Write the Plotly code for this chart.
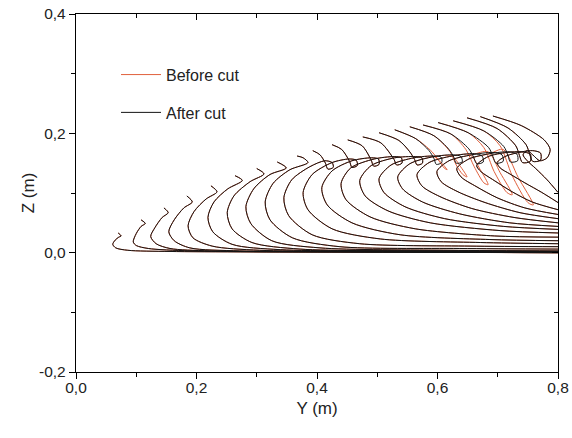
import plotly.graph_objects as go

# Snapshot profiles of the line, horizontal position Y (m) and height Z (m),
# each listed from the fixed end at Y = 0.8 m to the free end.
s01_y = [0.800, 0.455, 0.156, 0.086, 0.066, 0.061, 0.065, 0.071, 0.075, 0.070]
s01_z = [0.000, 0.001, 0.002, 0.004, 0.008, 0.014, 0.021, 0.026, 0.028, 0.033]
s02_y = [0.800, 0.455, 0.189, 0.120, 0.100, 0.095, 0.100, 0.108, 0.115, 0.108]
s02_z = [0.000, 0.001, 0.003, 0.007, 0.012, 0.018, 0.032, 0.044, 0.049, 0.055]
s03_y = [0.800, 0.504, 0.222, 0.156, 0.133, 0.124, 0.131, 0.143, 0.153, 0.146]
s03_z = [0.000, 0.001, 0.003, 0.007, 0.015, 0.027, 0.042, 0.059, 0.067, 0.075]
s04_y = [0.800, 0.538, 0.272, 0.189, 0.163, 0.154, 0.163, 0.179, 0.193, 0.184]
s04_z = [0.001, 0.002, 0.003, 0.008, 0.020, 0.035, 0.055, 0.075, 0.085, 0.095]
s05_y = [0.800, 0.571, 0.305, 0.226, 0.194, 0.186, 0.196, 0.216, 0.234, 0.224]
s05_z = [0.001, 0.002, 0.004, 0.011, 0.025, 0.045, 0.069, 0.090, 0.102, 0.112]
s06_y = [0.800, 0.588, 0.339, 0.259, 0.227, 0.219, 0.229, 0.252, 0.276, 0.264]
s06_z = [0.002, 0.003, 0.005, 0.014, 0.035, 0.059, 0.085, 0.107, 0.121, 0.129]
s07_y = [0.800, 0.604, 0.372, 0.292, 0.259, 0.251, 0.262, 0.289, 0.312, 0.300]
s07_z = [0.002, 0.003, 0.006, 0.017, 0.040, 0.067, 0.095, 0.119, 0.132, 0.141]
s08_y = [0.800, 0.621, 0.405, 0.325, 0.290, 0.282, 0.295, 0.322, 0.349, 0.334]
s08_z = [0.003, 0.004, 0.008, 0.020, 0.049, 0.077, 0.107, 0.131, 0.142, 0.152]
s09_y = [0.800, 0.637, 0.438, 0.359, 0.322, 0.314, 0.327, 0.355, 0.385, 0.377, 0.367]
s09_z = [0.006, 0.007, 0.010, 0.025, 0.055, 0.085, 0.116, 0.139, 0.151, 0.159, 0.162]
s10_y = [0.800, 0.654, 0.471, 0.392, 0.353, 0.345, 0.358, 0.388, 0.413, 0.425, 0.427, 0.418, 0.414, 0.405, 0.393]
s10_z = [0.010, 0.011, 0.015, 0.030, 0.062, 0.092, 0.122, 0.144, 0.154, 0.151, 0.143, 0.140, 0.150, 0.164, 0.171]
s11_y = [0.800, 0.671, 0.505, 0.425, 0.385, 0.377, 0.392, 0.425, 0.453, 0.465, 0.467, 0.458, 0.454, 0.441, 0.425]
s11_z = [0.015, 0.017, 0.023, 0.040, 0.072, 0.101, 0.131, 0.151, 0.157, 0.155, 0.146, 0.143, 0.153, 0.173, 0.181]
s12_y = [0.800, 0.687, 0.538, 0.458, 0.417, 0.408, 0.425, 0.458, 0.490, 0.502, 0.503, 0.494, 0.490, 0.475, 0.451]
s12_z = [0.020, 0.022, 0.030, 0.050, 0.080, 0.109, 0.137, 0.154, 0.159, 0.157, 0.148, 0.145, 0.155, 0.179, 0.189]
s13_y = [0.800, 0.695, 0.563, 0.488, 0.448, 0.440, 0.456, 0.495, 0.528, 0.540, 0.541, 0.532, 0.528, 0.506, 0.476]
s13_z = [0.026, 0.028, 0.040, 0.060, 0.089, 0.116, 0.142, 0.157, 0.161, 0.159, 0.150, 0.147, 0.156, 0.184, 0.194]
s14_y = [0.800, 0.704, 0.588, 0.518, 0.480, 0.471, 0.490, 0.529, 0.563, 0.574, 0.575, 0.566, 0.562, 0.554, 0.536, 0.503]
s14_z = [0.033, 0.037, 0.050, 0.070, 0.095, 0.121, 0.146, 0.159, 0.161, 0.159, 0.150, 0.147, 0.156, 0.169, 0.188, 0.201]

# Snapshots 15-19: common body, then the tip after the cut and before it.
s15_body_y = [0.800, 0.710, 0.612, 0.546, 0.511, 0.503, 0.523, 0.561]
s15_body_z = [0.039, 0.044, 0.057, 0.077, 0.101, 0.124, 0.147, 0.159]
s15_after_y = [0.594, 0.606, 0.607, 0.598, 0.594, 0.586, 0.564, 0.529]
s15_after_z = [0.162, 0.160, 0.151, 0.148, 0.158, 0.171, 0.191, 0.206]
s15_before_y = [0.594, 0.606, 0.616, 0.611, 0.601, 0.591, 0.564, 0.529]
s15_before_z = [0.161, 0.151, 0.139, 0.142, 0.156, 0.169, 0.191, 0.206]

s16_body_y = [0.800, 0.720, 0.637, 0.575, 0.542, 0.534, 0.554, 0.594]
s16_body_z = [0.044, 0.050, 0.065, 0.085, 0.107, 0.127, 0.149, 0.161]
s16_after_y = [0.627, 0.639, 0.641, 0.631, 0.627, 0.619, 0.594, 0.554]
s16_after_z = [0.164, 0.161, 0.152, 0.150, 0.160, 0.173, 0.196, 0.211]
s16_before_y = [0.624, 0.637, 0.649, 0.642, 0.631, 0.621, 0.594, 0.554]
s16_before_z = [0.162, 0.146, 0.127, 0.131, 0.147, 0.169, 0.196, 0.211]

s17_body_y = [0.800, 0.727, 0.657, 0.604, 0.574, 0.566, 0.586, 0.624]
s17_body_z = [0.050, 0.059, 0.074, 0.094, 0.112, 0.131, 0.151, 0.162]
s17_after_y = [0.661, 0.674, 0.676, 0.665, 0.660, 0.652, 0.622, 0.576]
s17_after_z = [0.166, 0.162, 0.152, 0.149, 0.160, 0.174, 0.199, 0.214]
s17_before_y = [0.654, 0.671, 0.684, 0.677, 0.661, 0.647, 0.622, 0.576]
s17_before_z = [0.164, 0.139, 0.114, 0.117, 0.144, 0.173, 0.199, 0.214]

s18_body_y = [0.800, 0.737, 0.679, 0.634, 0.606, 0.599, 0.619, 0.657]
s18_body_z = [0.057, 0.067, 0.084, 0.102, 0.119, 0.136, 0.154, 0.164]
s18_after_y = [0.692, 0.707, 0.709, 0.697, 0.692, 0.685, 0.651, 0.601]
s18_after_z = [0.168, 0.164, 0.153, 0.150, 0.161, 0.176, 0.201, 0.218]
s18_before_y = [0.684, 0.704, 0.724, 0.715, 0.694, 0.677, 0.651, 0.601]
s18_before_z = [0.169, 0.134, 0.097, 0.101, 0.136, 0.176, 0.201, 0.218]

s19_body_y = [0.800, 0.745, 0.699, 0.664, 0.639, 0.632, 0.652, 0.687]
s19_body_z = [0.064, 0.075, 0.092, 0.111, 0.127, 0.141, 0.157, 0.166]
s19_after_y = [0.719, 0.732, 0.733, 0.721, 0.717, 0.710, 0.677, 0.626]
s19_after_z = [0.169, 0.165, 0.154, 0.152, 0.163, 0.178, 0.204, 0.221]
s19_before_y = [0.709, 0.734, 0.759, 0.750, 0.724, 0.704, 0.677, 0.626]
s19_before_z = [0.173, 0.126, 0.080, 0.084, 0.129, 0.179, 0.204, 0.221]

s20_y = [0.800, 0.757, 0.724, 0.694, 0.672, 0.665, 0.684, 0.715, 0.740, 0.754, 0.754, 0.741, 0.736, 0.730, 0.699, 0.649]
s20_z = [0.072, 0.085, 0.102, 0.121, 0.136, 0.146, 0.161, 0.168, 0.169, 0.165, 0.153, 0.151, 0.163, 0.179, 0.208, 0.226]
s21_y = [0.800, 0.773, 0.745, 0.720, 0.704, 0.699, 0.714, 0.740, 0.758, 0.771, 0.771, 0.758, 0.753, 0.747, 0.717, 0.671]
s21_z = [0.084, 0.101, 0.117, 0.132, 0.142, 0.151, 0.162, 0.169, 0.171, 0.167, 0.155, 0.153, 0.165, 0.181, 0.209, 0.228]
s22_y = [0.800, 0.782, 0.763, 0.749, 0.742, 0.749, 0.758, 0.770, 0.782, 0.787, 0.777, 0.739, 0.692]
s22_z = [0.101, 0.122, 0.141, 0.154, 0.164, 0.171, 0.164, 0.154, 0.159, 0.173, 0.189, 0.213, 0.229]

# Axis ticks
y_tick_vals = [0.0, 0.2, 0.4, 0.6, 0.8]
y_tick_text = ["0,0", "0,2", "0,4", "0,6", "0,8"]
y_minor_vals = [0.1, 0.3, 0.5, 0.7]
z_tick_vals = [-0.2, 0.0, 0.2, 0.4]
z_tick_text = ["-0,2", "0,0", "0,2", "0,4"]
z_minor_vals = [-0.1, 0.1, 0.3]

RED = "#e0603c"
BLACK = "#141414"
FONT = "Liberation Sans, Arial, sans-serif"
TEXT = "#222222"

shared = [
    (s01_y, s01_z), (s02_y, s02_z), (s03_y, s03_z), (s04_y, s04_z),
    (s05_y, s05_z), (s06_y, s06_z), (s07_y, s07_z), (s08_y, s08_z),
    (s09_y, s09_z), (s10_y, s10_z), (s11_y, s11_z), (s12_y, s12_z),
    (s13_y, s13_z), (s14_y, s14_z),
]
late = [(s20_y, s20_z), (s21_y, s21_z), (s22_y, s22_z)]
split = [
    (s15_body_y, s15_body_z, s15_after_y, s15_after_z, s15_before_y, s15_before_z),
    (s16_body_y, s16_body_z, s16_after_y, s16_after_z, s16_before_y, s16_before_z),
    (s17_body_y, s17_body_z, s17_after_y, s17_after_z, s17_before_y, s17_before_z),
    (s18_body_y, s18_body_z, s18_after_y, s18_after_z, s18_before_y, s18_before_z),
    (s19_body_y, s19_body_z, s19_after_y, s19_after_z, s19_before_y, s19_before_z),
]

before_cut = list(shared)
before_cut += [(by + bfy, bz + bfz) for by, bz, ay, az, bfy, bfz in split]
before_cut += late
after_cut = list(shared)
after_cut += [(by + ay, bz + az) for by, bz, ay, az, bfy, bfz in split]
after_cut += late

fig = go.Figure()


def add_profiles(profiles, name, color, group):
    for i, (py, pz) in enumerate(profiles):
        fig.add_trace(go.Scatter(
            x=py, y=pz, mode="lines", name=name,
            line=dict(color=color, width=1, shape="spline", smoothing=0.8),
            legendgroup=group, showlegend=(i == 0), hoverinfo="skip",
        ))


add_profiles(before_cut, "Before cut", RED, "before")
add_profiles(after_cut, "After cut", BLACK, "after")

# Empty trace that carries the mirrored top/right axes
fig.add_trace(go.Scatter(x=[], y=[], xaxis="x2", yaxis="y2",
                         showlegend=False, hoverinfo="skip"))

axis_common = dict(
    showgrid=False, zeroline=False, showline=True, automargin=False,
    linecolor="black", linewidth=1.3,
    tickfont=dict(family=FONT, size=15.5, color=TEXT),
    tickcolor="black", tickwidth=1.2,
)

fig.update_layout(
    width=572, height=438,
    margin=dict(l=76, r=14, t=14, b=66),
    paper_bgcolor="white", plot_bgcolor="white",
    font=dict(family=FONT, size=15, color=TEXT),
    xaxis=dict(
        range=[0, 0.8], tickmode="array", tickvals=y_tick_vals, ticktext=y_tick_text,
        ticks="outside", ticklen=6, ticklabelstandoff=-5,
        minor=dict(tickmode="array", tickvals=y_minor_vals, ticks="outside",
                   ticklen=4, tickcolor="black", tickwidth=1.2),
        title=dict(text="Y (m)", font=dict(family=FONT, size=17, color=TEXT), standoff=7),
        **axis_common,
    ),
    yaxis=dict(
        range=[-0.2, 0.4], tickmode="array", tickvals=z_tick_vals, ticktext=z_tick_text,
        ticks="outside", ticklen=6,
        minor=dict(tickmode="array", tickvals=z_minor_vals, ticks="outside",
                   ticklen=4, tickcolor="black", tickwidth=1.2),
        title=dict(text="Z (m)", font=dict(family=FONT, size=17, color=TEXT), standoff=0),
        **axis_common,
    ),
    xaxis2=dict(
        range=[0, 0.8], overlaying="x", side="top", anchor="y2",
        tickmode="array", tickvals=y_tick_vals, ticks="inside", ticklen=6,
        showticklabels=False,
        minor=dict(tickmode="array", tickvals=y_minor_vals, ticks="inside",
                   ticklen=4, tickcolor="black", tickwidth=1.2),
        **axis_common,
    ),
    yaxis2=dict(
        range=[-0.2, 0.4], overlaying="y", side="right", anchor="x2",
        tickmode="array", tickvals=z_tick_vals, ticks="inside", ticklen=6,
        showticklabels=False,
        minor=dict(tickmode="array", tickvals=z_minor_vals, ticks="inside",
                   ticklen=4, tickcolor="black", tickwidth=1.2),
        **axis_common,
    ),
    legend=dict(
        x=0.083, y=0.878, xanchor="left", yanchor="top",
        bgcolor="rgba(0,0,0,0)", borderwidth=0,
        font=dict(family=FONT, size=16, color=TEXT),
        tracegroupgap=14, itemwidth=40,
    ),
    showlegend=True,
)

fig.write_html("out.html")
